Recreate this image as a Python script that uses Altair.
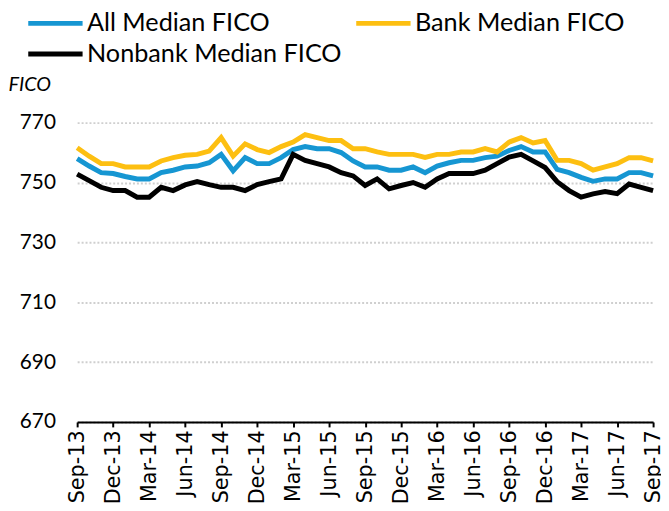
import altair as alt
import pandas as pd

months = ["Sep-13", "Oct-13", "Nov-13", "Dec-13", "Jan-14", "Feb-14", "Mar-14", "Apr-14",
          "May-14", "Jun-14", "Jul-14", "Aug-14", "Sep-14", "Oct-14", "Nov-14", "Dec-14",
          "Jan-15", "Feb-15", "Mar-15", "Apr-15", "May-15", "Jun-15", "Jul-15", "Aug-15",
          "Sep-15", "Oct-15", "Nov-15", "Dec-15", "Jan-16", "Feb-16", "Mar-16", "Apr-16",
          "May-16", "Jun-16", "Jul-16", "Aug-16", "Sep-16", "Oct-16", "Nov-16", "Dec-16",
          "Jan-17", "Feb-17", "Mar-17", "Apr-17", "May-17", "Jun-17", "Jul-17", "Aug-17",
          "Sep-17"]

tick_labels = ["Sep-13", "Dec-13", "Mar-14", "Jun-14", "Sep-14", "Dec-14", "Mar-15", "Jun-15",
               "Sep-15", "Dec-15", "Mar-16", "Jun-16", "Sep-16", "Dec-16", "Mar-17", "Jun-17",
               "Sep-17"]

all_median = [758.0, 755.5, 753.3, 753.0, 752.0, 751.2, 751.2, 753.3, 754.1, 755.2, 755.5, 756.6,
              759.4, 753.9, 758.3, 756.3, 756.3, 758.3, 761.0, 762.0, 761.3, 761.3, 760.0, 757.2,
              755.2, 755.2, 754.1, 754.1, 755.2, 753.3, 755.5, 756.6, 757.4, 757.4, 758.3, 758.8,
              760.7, 762.0, 760.2, 760.2, 754.4, 753.3, 751.7, 750.4, 751.2, 751.2, 753.3, 753.3,
              752.2]

bank_median = [761.6, 758.8, 756.3, 756.3, 755.2, 755.2, 755.2, 757.2, 758.3, 759.1, 759.4, 760.5,
               765.0, 758.8, 762.9, 761.0, 760.0, 762.0, 763.5, 766.0, 765.0, 764.0, 764.0, 761.3,
               761.3, 760.2, 759.4, 759.4, 759.4, 758.4, 759.4, 759.4, 760.2, 760.2, 761.3, 760.2,
               763.5, 765.0, 763.2, 764.0, 757.4, 757.4, 756.3, 754.1, 755.2, 756.3, 758.3, 758.3,
               757.2]

nonbank_median = [752.8, 750.6, 748.4, 747.3, 747.3, 745.1, 745.1, 748.4, 747.3, 749.2, 750.3, 749.3,
                  748.4, 748.4, 747.3, 749.3, 750.3, 751.2, 759.4, 757.4, 756.3, 755.2, 753.3, 752.2,
                  749.0, 751.2, 747.9, 749.0, 750.0, 748.4, 751.2, 753.0, 753.0, 753.0, 754.1, 756.3,
                  758.5, 759.4, 757.2, 755.0, 750.3, 747.3, 745.1, 746.2, 747.0, 746.3, 749.5, 748.4,
                  747.3]

series_names = ["All Median FICO", "Bank Median FICO", "Nonbank Median FICO"]
series_colors = ["#1696d2", "#fdbf11", "#000000"]
y_ticks = [670, 690, 710, 730, 750, 770]

rows = []
for name, vals in zip(series_names, [all_median, bank_median, nonbank_median]):
    for m, v in zip(months, vals):
        rows.append({"month": m, "series": name, "value": v})
df = pd.DataFrame(rows)

chart = alt.Chart(df).mark_line(strokeWidth=5).encode(
    x=alt.X("month:O", sort=months,
            scale=alt.Scale(type="point", padding=0),
            axis=alt.Axis(values=tick_labels, labelAngle=-90, title=None,
                          labelFont="DejaVu Sans", labelFontSize=21, labelColor="black",
                          domainColor="black", domainWidth=2, tickColor="black",
                          tickWidth=2, tickSize=5, labelPadding=3, grid=False)),
    y=alt.Y("value:Q", scale=alt.Scale(domain=[670, 770], nice=False, zero=False),
            axis=alt.Axis(values=y_ticks, title="FICO", titleAngle=0, titleAlign="left",
                          titleBaseline="middle", titleX=-70, titleY=-39,
                          titleFont="Lato", titleFontStyle="italic", titleFontWeight="normal",
                          titleFontSize=20, titleColor="black",
                          labelFont="Lato", labelFontSize=21, labelColor="black",
                          labelPadding=22, domain=False, ticks=False,
                          grid=True, gridDash=[2, 2], gridColor="#cfcfcf", gridWidth=2)),
    color=alt.Color("series:N", sort=series_names,
                    scale=alt.Scale(domain=series_names, range=series_colors),
                    legend=alt.Legend(orient="none", legendX=-52, legendY=-114, columns=2,
                                      direction="horizontal",
                                      gridAlign="none", symbolType="M-1,0H4",
                                      symbolStrokeWidth=5, symbolSize=484,
                                      labelFont="Lato", labelFontSize=25.5, labelColor="black",
                                      labelOffset=35, columnPadding=4, rowPadding=4,
                                      labelLimit=400, title=None)),
).properties(
    width=583, height=303,
    autosize=alt.AutoSizeParams(type="none"),
    padding={"left": 70, "top": 113, "right": 8, "bottom": 80},
).configure_view(stroke=None)

chart.save("out.html", embed_options={"renderer": "svg", "actions": False})
